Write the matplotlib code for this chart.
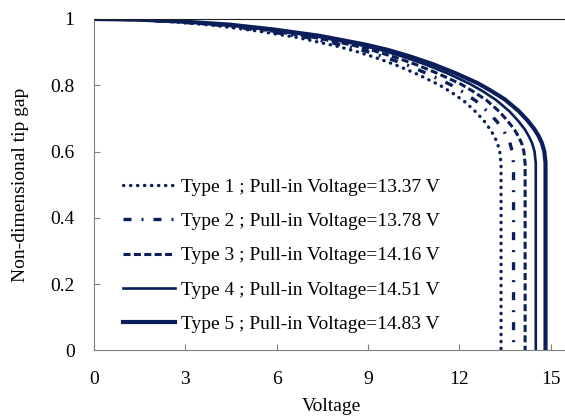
import matplotlib.pyplot as plt

# --- data ---
pull_in = [13.37, 13.78, 14.16, 14.51, 14.83]
labels = ["Type 1 ; Pull-in Voltage=13.37 V",
          "Type 2 ; Pull-in Voltage=13.78 V",
          "Type 3 ; Pull-in Voltage=14.16 V",
          "Type 4 ; Pull-in Voltage=14.51 V",
          "Type 5 ; Pull-in Voltage=14.83 V"]

v1 = [0, 1.34, 2.67, 4.01, 5.35, 6.69, 8.02, 8.69, 9.36, 10.03, 10.70, 11.36, 11.77, 12.17, 12.57, 12.84, 13.04, 13.17, 13.26, 13.33, 13.37]
g1 = [1.0, 0.998, 0.991, 0.980, 0.964, 0.944, 0.917, 0.900, 0.880, 0.857, 0.830, 0.800, 0.777, 0.751, 0.717, 0.689, 0.663, 0.642, 0.622, 0.598, 0.562]
v2 = [0, 1.38, 2.76, 4.13, 5.51, 6.89, 8.27, 8.96, 9.65, 10.34, 11.02, 11.71, 12.13, 12.54, 12.95, 13.23, 13.44, 13.57, 13.67, 13.74, 13.78]
g2 = [1.0, 0.998, 0.991, 0.981, 0.965, 0.946, 0.919, 0.902, 0.882, 0.859, 0.832, 0.802, 0.779, 0.753, 0.719, 0.691, 0.665, 0.643, 0.623, 0.599, 0.563]
v3 = [0, 1.42, 2.83, 4.25, 5.66, 7.08, 8.50, 9.20, 9.91, 10.62, 11.33, 12.04, 12.46, 12.89, 13.31, 13.59, 13.81, 13.95, 14.05, 14.12, 14.16]
g3 = [1.0, 0.998, 0.992, 0.982, 0.966, 0.947, 0.921, 0.904, 0.884, 0.861, 0.834, 0.804, 0.781, 0.755, 0.721, 0.692, 0.666, 0.644, 0.624, 0.600, 0.564]
v4 = [0, 1.45, 2.90, 4.35, 5.80, 7.26, 8.71, 9.43, 10.16, 10.88, 11.61, 12.33, 12.77, 13.20, 13.64, 13.93, 14.15, 14.29, 14.39, 14.47, 14.51]
g4 = [1.0, 0.998, 0.992, 0.982, 0.967, 0.948, 0.922, 0.906, 0.886, 0.863, 0.836, 0.805, 0.782, 0.756, 0.722, 0.693, 0.667, 0.645, 0.625, 0.600, 0.565]
v5 = [0, 1.48, 2.97, 4.45, 5.93, 7.42, 8.90, 9.64, 10.38, 11.12, 11.86, 12.61, 13.05, 13.50, 13.94, 14.24, 14.46, 14.61, 14.71, 14.79, 14.83]
g5 = [1.0, 0.998, 0.992, 0.983, 0.968, 0.949, 0.923, 0.907, 0.887, 0.864, 0.837, 0.806, 0.783, 0.757, 0.723, 0.694, 0.668, 0.646, 0.626, 0.601, 0.566]

volts = [v1, v2, v3, v4, v5]
gaps = [g1, g2, g3, g4, g5]

navy = '#0a1f5a'
styles = [dict(linestyle=(0, (0.1, 2.0)), linewidth=2.4, dash_capstyle='round'),
          dict(linestyle=(0, (2.4, 3.0, 0.6, 3.0)), linewidth=2.4),
          dict(linestyle=(0, (2.3, 1.1)), linewidth=2.2),
          dict(linestyle='-', linewidth=1.9),
          dict(linestyle='-', linewidth=3.0)]

plt.rcParams['font.family'] = ['Liberation Serif', 'DejaVu Serif']

fig = plt.figure(figsize=(5.65, 4.19), dpi=100)
ax = fig.add_axes([0.1664, 0.1635, 0.8336, 0.7912])

# each curve then drops straight to zero at pull-in
for v, g, vp, lab, st in zip(volts, gaps, pull_in, labels, styles):
    ax.plot(v + [vp], g + [0.0], color=navy, label=lab, **st)

ax.set_xlim(0, 15.47)
ax.set_ylim(0, 1)
ax.set_xticks([0, 3, 6, 9, 12, 15])
ax.set_yticks([0, 0.2, 0.4, 0.6, 0.8, 1])
ax.set_yticklabels(['0', '0.2', '0.4', '0.6', '0.8', '1'])
ax.tick_params(direction='in', length=4, color='#808080', labelsize=14)
ax.tick_params(axis='x', pad=15)
ax.tick_params(axis='y', pad=14)

for s in ['left', 'bottom']:
    ax.spines[s].set_color('#808080')
ax.spines['top'].set_color('#202020')
ax.spines['right'].set_visible(False)

ax.set_xlabel("Voltage", fontsize=14)
ax.set_ylabel("Non-dimensional tip gap", fontsize=14)
ax.xaxis.set_label_coords(0.505, -0.143)
ax.yaxis.set_label_coords(-0.138, 0.5)

ax.legend(loc='lower left', bbox_to_anchor=(0.025, 0.0), frameon=False,
          fontsize=14, handlelength=2.65, handletextpad=0.3, labelspacing=0.86)

fig.savefig('out.png', dpi=100)
